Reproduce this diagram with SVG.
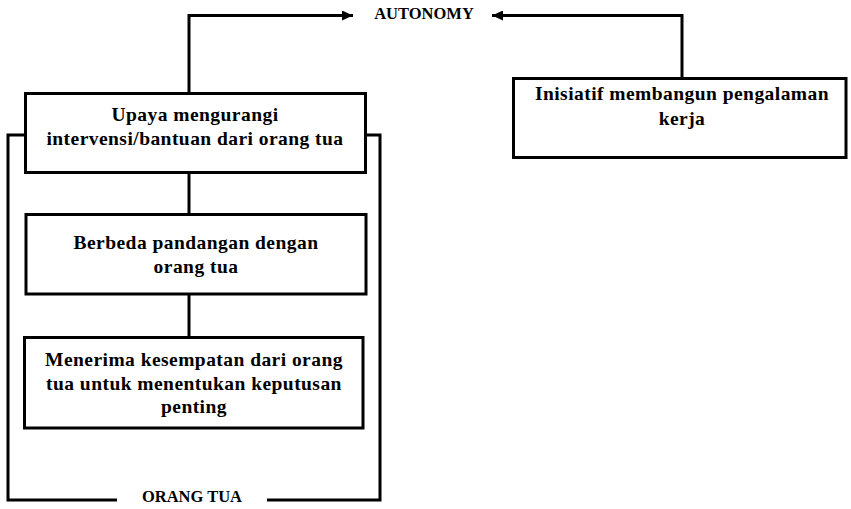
<svg xmlns="http://www.w3.org/2000/svg" width="851" height="509" viewBox="0 0 851 509">
<style>
.box{fill:#fff;stroke:#000;stroke-width:3}
.ln{fill:none;stroke:#000;stroke-width:3}
.t{font-family:"Liberation Serif","Times New Roman",serif;font-weight:bold;font-size:19.5px;letter-spacing:0.45px;text-anchor:middle;fill:#000}
.lbl{font-family:"Liberation Serif","Times New Roman",serif;font-weight:bold;font-size:16.5px;text-anchor:middle;fill:#000}
</style>
<defs>
<marker id="ah" markerWidth="12" markerHeight="10" refX="11" refY="5" orient="auto" markerUnits="userSpaceOnUse">
<path d="M0,0 L11,5 L0,10 Z" fill="#000"/>
</marker>
</defs>
<rect width="851" height="509" fill="#fff"/>
<g id="connectors">
<path class="ln" d="M189,93 V15.5 H353" marker-end="url(#ah)"/>
<path class="ln" d="M682,78 V15.5 H492" marker-end="url(#ah)"/>
<path class="ln" d="M189,172 V214"/>
<path class="ln" d="M189,294 V337"/>
<path class="ln" d="M25,135 H8 V500 H117"/>
<path class="ln" d="M365,135 H380 V500 H267"/>
</g>
<g id="autonomy"><text class="lbl" x="424" y="19">AUTONOMY</text></g>
<g id="orangtua"><text class="lbl" x="192" y="502">ORANG TUA</text></g>
<g id="box1">
<rect class="box" x="25.5" y="93.5" width="340" height="79"/>
<text class="t" x="195" y="121">Upaya mengurangi</text>
<text class="t" x="195" y="145">intervensi/bantuan dari orang tua</text>
</g>
<g id="box2">
<rect class="box" x="26" y="214.5" width="340" height="79.5"/>
<text class="t" x="196" y="249">Berbeda pandangan dengan</text>
<text class="t" x="196" y="273">orang tua</text>
</g>
<g id="box3">
<rect class="box" x="24.5" y="337.5" width="338.5" height="90.5"/>
<text class="t" x="194" y="366">Menerima kesempatan dari orang</text>
<text class="t" x="194" y="390">tua untuk menentukan keputusan</text>
<text class="t" x="194" y="413">penting</text>
</g>
<g id="box4">
<rect class="box" x="513.5" y="78.5" width="332.5" height="79"/>
<text class="t" x="682" y="100">Inisiatif membangun pengalaman</text>
<text class="t" x="682" y="125">kerja</text>
</g>
</svg>
